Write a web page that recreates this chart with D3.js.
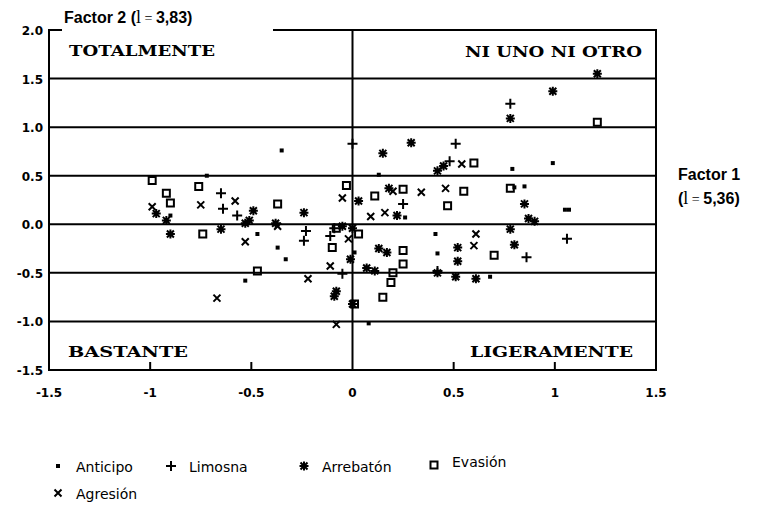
<!doctype html>
<html lang="es">
<head>
<meta charset="utf-8">
<title>Factor 1 x Factor 2</title>
<style>
  body { margin: 0; background: #fff; }
  svg { display: block; }
  .tick-lab { font-family: "DejaVu Sans", sans-serif; font-weight: bold; font-size: 12px; fill: #000; }
  .quad { font-family: "DejaVu Serif", serif; font-weight: bold; font-size: 15px; fill: #000; }
  .fac { font-family: Arial, "Liberation Sans", sans-serif; font-weight: bold; font-size: 16px; fill: #000; }
  .lam { font-family: "Liberation Serif", serif; font-weight: normal; }
  .leg { font-family: "DejaVu Sans", sans-serif; font-size: 14px; fill: #000; }
</style>
</head>
<body>
<svg id="chart" width="764" height="520" xmlns="http://www.w3.org/2000/svg"></svg>
<script src="https://d3js.org/d3.v7.min.js"></script>
<script>
// values: [factor 1, factor 2]
var anticipo = [[-0.35,0.76],[-0.72,0.50],[-0.90,0.09],[-0.47,-0.10],[-0.37,-0.24],[-0.33,-0.36],
  [-0.53,-0.58],[0.08,-1.02],[0.13,0.51],[0.26,0.07],[0.41,-0.10],[0.42,-0.30],[0.68,-0.54],
  [0.79,0.57],[0.99,0.63],[0.80,0.38],[0.85,0.39],[1.05,0.15],[1.07,0.15],[0.01,-0.29]];
var limosna = [[0.0,0.83],[0.51,0.83],[0.78,1.24],[0.25,0.21],[1.06,-0.15],[0.86,-0.34],
  [-0.65,0.32],[-0.64,0.16],[-0.57,0.09],[-0.24,-0.17],[-0.23,-0.07],[-0.11,-0.12],
  [-0.05,-0.51],[0.42,-0.48],[-0.09,-0.04],[0.48,0.65]];
var arrebaton = [[1.21,1.55],[0.99,1.37],[0.78,1.09],[0.29,0.84],[0.15,0.73],[0.42,0.55],
  [0.45,0.60],[0.18,0.37],[0.03,0.24],[0.22,0.09],[0.85,0.21],[0.87,0.06],[0.90,0.03],
  [0.80,-0.21],[0.78,-0.05],[0.52,-0.24],[0.52,-0.38],[0.42,-0.50],[0.51,-0.54],[0.61,-0.56],
  [-0.97,0.11],[-0.92,0.04],[-0.90,-0.10],[-0.65,-0.05],[-0.49,0.14],[-0.51,0.04],[-0.53,0.01],
  [-0.38,0.01],[-0.24,0.12],[-0.05,-0.02],[0.0,-0.04],[0.13,-0.25],[0.17,-0.29],[-0.01,-0.36],
  [0.07,-0.45],[0.11,-0.48],[-0.08,-0.69],[-0.09,-0.74],[0.0,-0.82]];
var evasion = [[1.21,1.05],[0.60,0.63],[0.11,0.29],[0.25,0.36],[0.55,0.34],[0.47,0.19],
  [-0.03,0.40],[-0.99,0.45],[-0.92,0.32],[-0.90,0.22],[-0.76,0.39],[-0.74,-0.10],[-0.37,0.21],
  [-0.08,-0.04],[-0.10,-0.24],[0.03,-0.10],[0.25,-0.27],[0.25,-0.41],[0.20,-0.50],[0.19,-0.60],
  [0.15,-0.75],[0.01,-0.82],[-0.47,-0.48],[0.70,-0.32],[0.78,0.37]];
var agresion = [[0.54,0.62],[0.34,0.33],[0.46,0.37],[0.20,0.34],[0.09,0.08],[0.16,0.12],
  [-0.05,0.27],[-0.02,-0.15],[-0.11,-0.43],[-0.08,-1.03],[-0.99,0.18],[-0.75,0.20],[-0.58,0.24],
  [-0.37,-0.02],[-0.53,-0.18],[-0.67,-0.76],[-0.22,-0.56],[0.61,-0.10],[0.60,-0.22]];

var xTicks = [-1.5, -1, -0.5, 0, 0.5, 1, 1.5];
var xTickLabels = ["-1.5", "-1", "-0.5", "0", "0.5", "1", "1.5"];
var yTicks = [2, 1.5, 1, 0.5, 0, -0.5, -1, -1.5];
var yTickLabels = ["2.0", "1.5", "1.0", "0.5", "0.0", "-0.5", "-1.0", "-1.5"];

var svg = d3.select("#chart");
var x = d3.scaleLinear().domain([-1.5, 1.5]).range([49, 656]);
var y = d3.scaleLinear().domain([-1.5, 2]).range([370, 30]);

// marker shapes
var shapes = {
  anticipo: "M-2,-2H2V2H-2Z",
  limosna: "M-5,0H5M0,-5V5",
  arrebaton: "M-4.5,0H4.5M0,-4.5V4.5M-3.5,-3.5L3.5,3.5M-3.5,3.5L3.5,-3.5",
  evasion: "M-3.5,-3.5H3.5V3.5H-3.5Z",
  agresion: "M-3.5,-3.5L3.5,3.5M-3.5,3.5L3.5,-3.5"
};
function styleMarker(sel, key) {
  sel.attr("d", shapes[key]);
  if (key == "anticipo") sel.attr("fill", "#000").attr("stroke", "none");
  else if (key == "evasion") sel.attr("fill", "none").attr("stroke", "#000").attr("stroke-width", 2);
  else sel.attr("fill", "none").attr("stroke", "#000").attr("stroke-width", 2);
}

// grid lines
svg.append("g").selectAll("line")
  .data(yTicks.filter(function(d) { return d > -1.5 && d < 2; }))
  .enter().append("line")
  .attr("x1", x(-1.5)).attr("x2", x(1.5))
  .attr("y1", function(d) { return y(d); }).attr("y2", function(d) { return y(d); })
  .attr("stroke", "#000").attr("stroke-width", 2);
svg.append("line")
  .attr("x1", x(0)).attr("x2", x(0)).attr("y1", y(2)).attr("y2", y(-1.5))
  .attr("stroke", "#000").attr("stroke-width", 2);

// frame
svg.append("rect")
  .attr("x", x(-1.5)).attr("y", y(2))
  .attr("width", x(1.5) - x(-1.5)).attr("height", y(-1.5) - y(2))
  .attr("fill", "none").attr("stroke", "#000").attr("stroke-width", 2);

// small ticks on bottom edge
svg.append("g").selectAll("line")
  .data(xTicks.filter(function(d) { return d != 0 && Math.abs(d) < 1.5; }))
  .enter().append("line")
  .attr("x1", function(d) { return x(d); }).attr("x2", function(d) { return x(d); })
  .attr("y1", y(-1.5)).attr("y2", y(-1.5) - 8)
  .attr("stroke", "#000").attr("stroke-width", 2);

// tick labels
svg.append("g").selectAll("text")
  .data(xTicks).enter().append("text")
  .attr("class", "tick-lab")
  .attr("x", function(d) { return x(d); }).attr("y", 397)
  .attr("text-anchor", "middle")
  .text(function(d, i) { return xTickLabels[i]; });
svg.append("g").selectAll("text")
  .data(yTicks).enter().append("text")
  .attr("class", "tick-lab")
  .attr("x", 43).attr("y", function(d) { return y(d) + 5; })
  .attr("text-anchor", "end")
  .text(function(d, i) { return yTickLabels[i]; });

// quadrant labels
var quads = [
  {t: "TOTALMENTE", x: 69, y: 56, w: 146},
  {t: "NI UNO NI OTRO", x: 465, y: 57, w: 177},
  {t: "BASTANTE", x: 68, y: 357, w: 120},
  {t: "LIGERAMENTE", x: 470, y: 357, w: 163}
];
svg.append("g").selectAll("text")
  .data(quads).enter().append("text")
  .attr("class", "quad")
  .attr("x", function(d) { return d.x; }).attr("y", function(d) { return d.y; })
  .attr("textLength", function(d) { return d.w; })
  .attr("lengthAdjust", "spacingAndGlyphs")
  .text(function(d) { return d.t; });

// points
var series = [
  {key: "anticipo", data: anticipo},
  {key: "limosna", data: limosna},
  {key: "evasion", data: evasion},
  {key: "agresion", data: agresion},
  {key: "arrebaton", data: arrebaton}
];
series.forEach(function(s) {
  var pts = svg.append("g").selectAll("path")
    .data(s.data).enter().append("path")
    .attr("transform", function(d) { return "translate(" + x(d[0]) + "," + y(d[1]) + ")"; });
  styleMarker(pts, s.key);
});

// axis titles
svg.append("rect").attr("x", 62).attr("y", 8).attr("width", 211).attr("height", 25).attr("fill", "#fff");
var t2 = svg.append("text").attr("class", "fac").attr("x", 64).attr("y", 23);
t2.append("tspan").text("Factor 2 (");
t2.append("tspan").attr("class", "lam").attr("font-size", 18).text("l");
t2.append("tspan").attr("class", "lam").attr("font-size", 14).text(" = ");
t2.append("tspan").text("3,83)");

svg.append("text").attr("class", "fac").attr("x", 678).attr("y", 180).text("Factor 1");
var t1 = svg.append("text").attr("class", "fac").attr("x", 678).attr("y", 204);
t1.append("tspan").text("(");
t1.append("tspan").attr("class", "lam").attr("font-size", 18).text("l");
t1.append("tspan").attr("class", "lam").attr("font-size", 14).text(" = ");
t1.append("tspan").text("5,36)");

// legend
var legend = [
  {key: "anticipo", label: "Anticipo", x: 58, y: 466, dy: 0},
  {key: "limosna", label: "Limosna", x: 171, y: 466, dy: 0},
  {key: "arrebaton", label: "Arrebatón", x: 304, y: 466, dy: 0},
  {key: "evasion", label: "Evasión", x: 434, y: 465, dy: -4},
  {key: "agresion", label: "Agresión", x: 58, y: 493, dy: 0}
];
var lg = svg.append("g").selectAll("g")
  .data(legend).enter().append("g")
  .attr("transform", function(d) { return "translate(" + d.x + "," + d.y + ")"; });
lg.each(function(d) {
  var g = d3.select(this);
  styleMarker(g.append("path"), d.key);
  g.append("text").attr("class", "leg")
    .attr("x", 18).attr("y", 6 + d.dy)
    .text(d.label);
});
</script>
</body>
</html>
